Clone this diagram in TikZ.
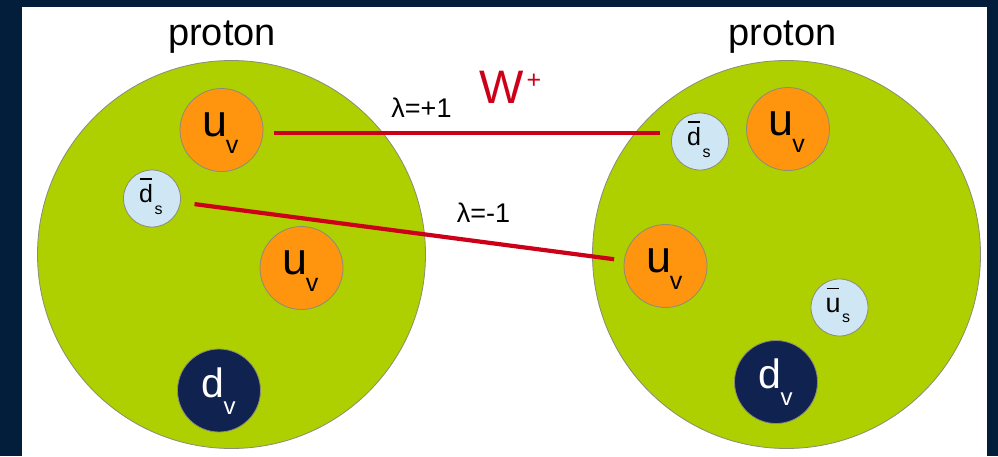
\documentclass[tikz,border=0pt]{standalone}
\usepackage{fontspec}
\setmainfont{Liberation Sans}
\definecolor{bgdark}{RGB}{2,30,58}
\definecolor{plime}{RGB}{174,207,0}
\definecolor{qorange}{RGB}{255,149,14}
\definecolor{qblue}{RGB}{207,231,245}
\definecolor{qnavy}{RGB}{16,34,80}
\definecolor{wred}{RGB}{204,0,24}
\definecolor{rimgray}{RGB}{140,140,120}
\newcommand\fs[1]{\fontsize{#1}{#1}\selectfont}
\newcommand\ovl[1]{\setbox0\hbox{#1}\rlap{\kern0.08\wd0\rule[23pt]{0.84\wd0}{1.2pt}}\box0}
\begin{document}
\begin{tikzpicture}[x=1pt,y=-1pt,
  proton/.style={circle, fill=plime, draw=rimgray, line width=0.8pt, inner sep=0pt, minimum size=388pt},
  valence/.style={circle, fill=qorange, draw=rimgray, line width=0.8pt, inner sep=0pt, minimum size=83pt},
  seaq/.style={circle, fill=qblue, draw=rimgray, line width=0.8pt, inner sep=0pt, minimum size=57pt},
  dval/.style={circle, fill=qnavy, draw=rimgray, line width=0.8pt, inner sep=0pt, minimum size=83pt},
  lab/.style={anchor=base, inner sep=0pt, text=black},
  wline/.style={draw=wred, line width=4.2pt}]
\useasboundingbox (0,0) rectangle (998,456);
\fill[bgdark] (0,0) rectangle (998,456);
\fill[white] (22,7) rectangle (987,456);
% protons
\node[proton] (pL) at (231.5,254.5) {};
\node[proton] (pR) at (786.5,254.5) {};
\node[lab] (tL) at (222,45) {\fs{38}proton};
\node[lab] (tR) at (782.5,45) {\fs{38}proton};
% quarks
\node[valence] (uL1) at (221.5,130) {};
\node[seaq] (dbL) at (152,198.5) {};
\node[valence] (uL2) at (301.5,268) {};
\node[dval] (dL) at (219,390.5) {};
\node[seaq] (dbR) at (700,141.5) {};
\node[valence] (uR1) at (788,129) {};
\node[valence] (uR2) at (665.5,266) {};
\node[seaq] (ubR) at (839.5,307.5) {};
\node[dval] (dR) at (776,382) {};
% quark labels
\foreach \n in {uL1,uL2,uR1,uR2} {
  \node[lab] (\n-m) at ([shift={(-6.5,6.5)}]\n.center) {\fs{45}u};
  \node[lab] (\n-s) at ([shift={(10.5,23.5)}]\n.center) {\fs{25}v};
}
\foreach \n in {dL,dR} {
  \node[lab, text=white] (\n-m) at ([shift={(-6.5,6.5)}]\n.center) {\fs{41}d};
  \node[lab, text=white] (\n-s) at ([shift={(10.5,23.5)}]\n.center) {\fs{24}v};
}
\foreach \n in {dbL,dbR} {
  \node[lab] (\n-m) at ([shift={(-6,4)}]\n.center) {\fs{25}\ovl{d}};
  \node[lab] (\n-s) at ([shift={(6.5,15.5)}]\n.center) {\fs{16}s};
}
\node[lab] (ubR-m) at ([shift={(-6.5,4.5)}]ubR.center) {\fs{27}\ovl{u}};
\node[lab] (ubR-s) at ([shift={(6.5,15)}]ubR.center) {\fs{16}s};
% W lines
\draw[wline] ([shift={(11,3)}]uL1.east) -- ([shift={(-11.5,-8.5)}]dbR.west);
\draw[wline, shorten <=14pt, shorten >=10pt] (dbL) -- (uR2);
% labels
\node[lab] (l1) at (421.5,117) {\fs{27}λ=+1};
\node[lab] (l2) at (483.5,222) {\fs{27}λ=-1};
\node[lab, text=wred] (W) at (501.5,103) {\fs{47}W};
\node[lab, text=wred] (Wp) at (534,88) {\fs{25}+};
\end{tikzpicture}
\end{document}
